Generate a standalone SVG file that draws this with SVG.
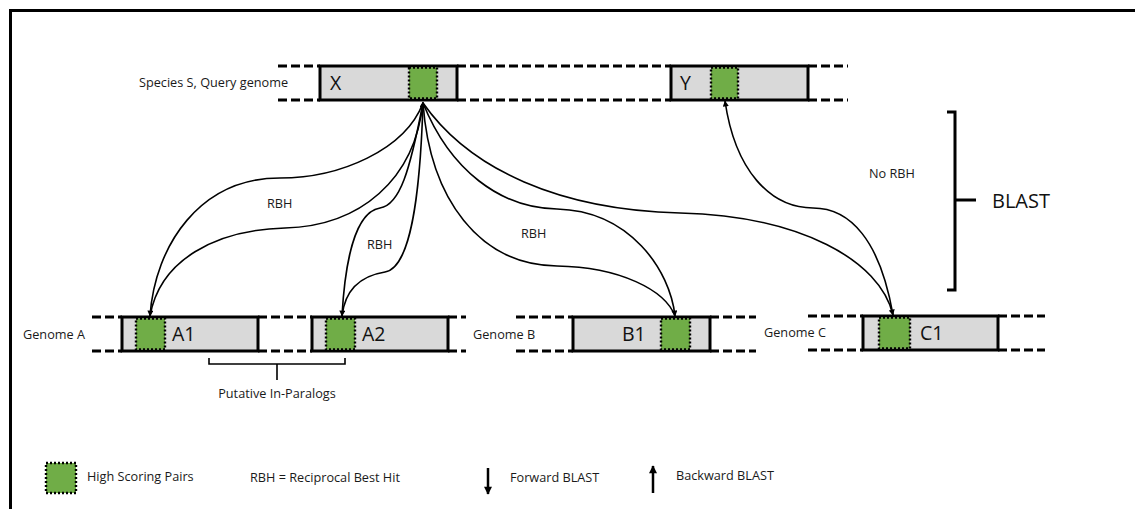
<svg xmlns="http://www.w3.org/2000/svg" width="1135" height="509" viewBox="0 0 1135 509">
  <style>
    .lbl { font-family: "Open Sans", "Liberation Sans", sans-serif; font-size: 12.7px; fill: #1a1a1a; }
    .gene { font-family: "Open Sans", "Liberation Sans", sans-serif; font-size: 19.5px; fill: #111; }
    .big { font-family: "Open Sans", "Liberation Sans", sans-serif; font-size: 20px; fill: #111; }
    .seq { fill: none; stroke: #000; stroke-width: 3; stroke-dasharray: 9 4; }
    .box { fill: #d9d9d9; stroke: #000; stroke-width: 3; }
    .hsp { fill: #70ad47; stroke: #000; stroke-width: 2.4; stroke-dasharray: 2 2; }
    .blast { fill: none; stroke: #000; stroke-width: 1.6; }
    .thick { fill: none; stroke: #000; stroke-width: 3; }
  </style>
  <defs>
    <marker id="head" viewBox="0 0 10 10" refX="9" refY="5" markerWidth="7" markerHeight="6" markerUnits="userSpaceOnUse" orient="auto">
      <path d="M0,0 L10,5 L0,10 Z" fill="#000"/>
    </marker>
    <marker id="headL" viewBox="0 0 10 10" refX="9" refY="5" markerWidth="9" markerHeight="8" orient="auto" markerUnits="userSpaceOnUse">
      <path d="M0,0 L10,5 L0,10 Z" fill="#000"/>
    </marker>
  </defs>

  <rect width="1135" height="509" fill="#fff"/>
  <!-- outer frame, open to the right and bottom -->
  <rect x="10.5" y="10.5" width="1140" height="520" fill="none" stroke="#000" stroke-width="3"/>

  <!-- query genome strand -->
  <g id="query-strand">
    <line class="seq" x1="278" y1="66" x2="320" y2="66"/>
    <line class="seq" x1="278" y1="100" x2="320" y2="100"/>
    <line class="seq" x1="457" y1="66" x2="671" y2="66"/>
    <line class="seq" x1="457" y1="100" x2="671" y2="100"/>
    <line class="seq" x1="808" y1="66" x2="848" y2="66"/>
    <line class="seq" x1="808" y1="100" x2="848" y2="100"/>
    <text class="lbl" x="139" y="87">Species S, Query genome</text>
  </g>
  <g id="gene-X">
    <rect class="box" x="320" y="66" width="137" height="34"/>
    <rect class="hsp" x="409" y="67.5" width="28" height="31"/>
    <text class="gene" x="330" y="90">X</text>
  </g>
  <g id="gene-Y">
    <rect class="box" x="671" y="66" width="137" height="34"/>
    <rect class="hsp" x="711" y="67.5" width="27" height="31"/>
    <text class="gene" x="680" y="90">Y</text>
  </g>

  <!-- genome A -->
  <g id="genome-A">
    <line class="seq" x1="92" y1="317" x2="122" y2="317"/>
    <line class="seq" x1="92" y1="351" x2="122" y2="351"/>
    <line class="seq" x1="258" y1="317" x2="312" y2="317"/>
    <line class="seq" x1="258" y1="351" x2="312" y2="351"/>
    <line class="seq" x1="448" y1="317" x2="466" y2="317"/>
    <line class="seq" x1="448" y1="351" x2="466" y2="351"/>
    <text class="lbl" x="23" y="339">Genome A</text>
  </g>
  <g id="gene-A1">
    <rect class="box" x="122" y="317" width="136" height="34"/>
    <rect class="hsp" x="136" y="318.5" width="29" height="31"/>
    <text class="gene" x="172" y="341">A1</text>
  </g>
  <g id="gene-A2">
    <rect class="box" x="312" y="317" width="136" height="34"/>
    <rect class="hsp" x="326" y="318.5" width="29" height="31"/>
    <text class="gene" x="362" y="341">A2</text>
  </g>
  <g id="paralog-bracket">
    <path class="blast" d="M209,358 V364 H345 V358 M277,364 V380" stroke-width="2"/>
    <text class="lbl" x="277" y="398" text-anchor="middle">Putative In-Paralogs</text>
  </g>

  <!-- genome B -->
  <g id="genome-B">
    <line class="seq" x1="516" y1="317" x2="573" y2="317"/>
    <line class="seq" x1="516" y1="351" x2="573" y2="351"/>
    <line class="seq" x1="710" y1="317" x2="756" y2="317"/>
    <line class="seq" x1="710" y1="351" x2="756" y2="351"/>
    <text class="lbl" x="473" y="339">Genome B</text>
  </g>
  <g id="gene-B1">
    <rect class="box" x="573" y="317" width="137" height="34"/>
    <rect class="hsp" x="661" y="318.5" width="29" height="31"/>
    <text class="gene" x="622" y="341">B1</text>
  </g>

  <!-- genome C -->
  <g id="genome-C">
    <line class="seq" x1="808" y1="316" x2="863" y2="316"/>
    <line class="seq" x1="808" y1="350" x2="863" y2="350"/>
    <line class="seq" x1="998" y1="316" x2="1045" y2="316"/>
    <line class="seq" x1="998" y1="350" x2="1045" y2="350"/>
    <text class="lbl" x="764" y="337">Genome C</text>
  </g>
  <g id="gene-C1">
    <rect class="box" x="863" y="316" width="135" height="34"/>
    <rect class="hsp" x="879" y="317.5" width="31" height="31"/>
    <text class="gene" x="920" y="340">C1</text>
  </g>

  <!-- BLAST hits between genes -->
  <g id="connectors">
    <!-- X <-> A1 -->
    <path class="blast" marker-end="url(#head)" d="M423,103 C405,150 340,178 280,178 C200,178 155,245 150,316"/>
    <path class="blast" marker-end="url(#head)" d="M150,316 C160,260 215,230 285,228 C360,226 415,180 423,102"/>
    <!-- X <-> A2 -->
    <path class="blast" marker-end="url(#head)" d="M423,103 C410,170 400,205 380,208 C355,212 345,262 342,316"/>
    <path class="blast" d="M342,316 C345,290 360,276 385,272 C410,268 420,200 423,103"/>
    <!-- X <-> B1 -->
    <path class="blast" marker-end="url(#head)" d="M423,103 C450,170 500,208 557,209 C630,211 670,270 675,316"/>
    <path class="blast" d="M675,316 C665,290 620,267 557,266 C480,265 430,200 423,103"/>
    <!-- X -> C1 -->
    <path class="blast" marker-end="url(#head)" d="M423,103 C470,170 560,210 680,213 C800,216 880,260 893,315"/>
    <!-- C1 -> Y -->
    <path class="blast" marker-end="url(#head)" d="M893,315 C880,240 850,208 813,208 C770,208 735,170 725,101"/>
  </g>

  <!-- connector labels -->
  <g id="labels">
    <text class="lbl" x="267" y="208">RBH</text>
    <text class="lbl" x="367" y="249">RBH</text>
    <text class="lbl" x="521" y="238">RBH</text>
    <text class="lbl" x="869" y="178" font-size="13.5">No RBH</text>
  </g>

  <!-- BLAST bracket -->
  <g id="blast-bracket">
    <path class="thick" d="M947,112 H955 V290 H947 M955,200 H976"/>
    <text class="big" x="992" y="208">BLAST</text>
  </g>

  <!-- legend -->
  <g id="legend">
    <rect class="hsp" x="46" y="463" width="30" height="30"/>
    <text class="lbl" x="87" y="481">High Scoring Pairs</text>
    <text class="lbl" x="250" y="482">RBH = Reciprocal Best Hit</text>
    <line x1="488" y1="468" x2="488" y2="494" stroke="#000" stroke-width="2.5" marker-end="url(#headL)"/>
    <text class="lbl" x="510" y="482">Forward BLAST</text>
    <line x1="653" y1="493" x2="653" y2="466" stroke="#000" stroke-width="2.5" marker-end="url(#headL)"/>
    <text class="lbl" x="676" y="480">Backward BLAST</text>
  </g>
</svg>
